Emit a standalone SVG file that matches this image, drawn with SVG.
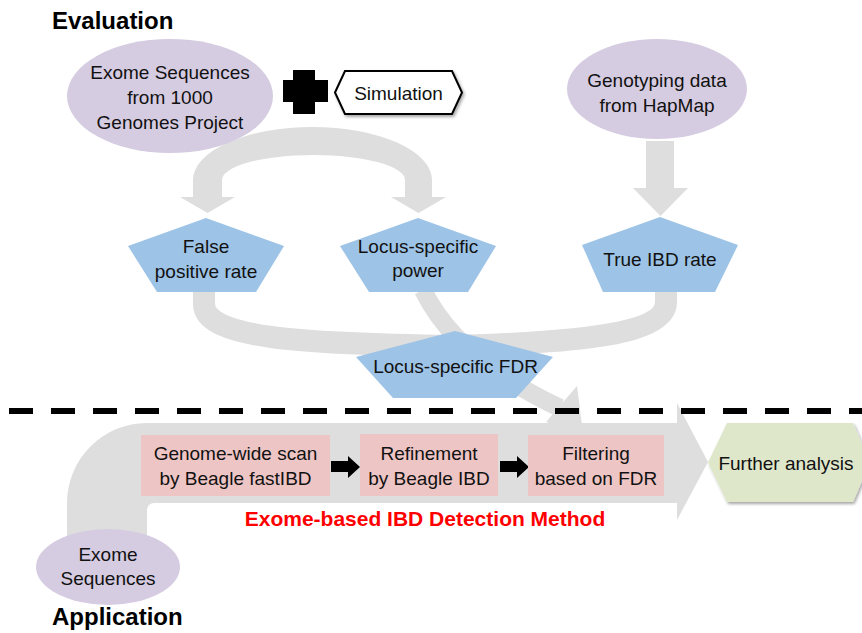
<svg xmlns="http://www.w3.org/2000/svg" width="862" height="633" viewBox="0 0 862 633">
<defs>
<style>
.t{font-family:"Liberation Sans",Arial,sans-serif;font-size:19px;fill:#111;text-anchor:middle}
.h{font-family:"Liberation Sans",Arial,sans-serif;font-size:24px;font-weight:bold;fill:#000}
.ell{fill:#d6cce2}
.pent{fill:#9dc3e6}
.box{fill:#eec5c5}
.gray{fill:#dedede}
.gs{fill:none;stroke:#dedede}
</style>
<filter id="sh" x="-10%" y="-20%" width="130%" height="160%">
<feDropShadow dx="1.5" dy="2" stdDeviation="1.5" flood-color="#000" flood-opacity="0.35"/>
</filter>
</defs>
<rect width="862" height="633" fill="#fff"/>

<g id="connectors">
  <!-- arch from exome sequences to FP and power -->
  <path class="gray" d="M193,197 L193,180 A119.5,53 0 0 1 432,180 L432,197 L405,197 L405,180 A91.5,25 0 0 0 222,180 L222,197 Z"/>
  <polygon class="gray" points="180,197 235,197 207.5,213"/>
  <polygon class="gray" points="391,197 446,197 418.5,213"/>
  <!-- HapMap to True IBD -->
  <rect class="gray" x="646" y="141" width="28" height="48"/>
  <polygon class="gray" points="633,188 688,188 660.5,216"/>
  <!-- FP and True IBD to FDR -->
  <path class="gs" stroke-width="22" d="M204,290 L204,304 C204,338 300,344 455,346"/>
  <path class="gs" stroke-width="22" d="M666,290 L666,302 C666,337 560,343 455,346"/>
  <!-- power through FDR to application -->
  <path class="gs" stroke-width="18" d="M423,290 C445,335 490,375 560,408"/>
  <polygon class="gray" points="577,386 546,422 583,433"/>
  <!-- application band arrow -->
  <path class="gray" d="M67,560 L67,503 A80,80 0 0 1 147,423 L677,423 L677,403 L708,462 L677,520 L677,503 L154,503 A7,7 0 0 0 147,510 L147,560 Z"/>
  <!-- black arrows between steps -->
  <polygon fill="#000" points="331,461 348,461 348,456 360,467 348,478 348,472 331,472"/>
  <polygon fill="#000" points="500,461 517,461 517,456 529,467 517,478 517,472 500,472"/>
</g>

<line x1="9" y1="411" x2="862" y2="411" stroke="#000" stroke-width="6" stroke-dasharray="24 18"/>

<text class="h" x="52" y="29">Evaluation</text>
<text class="h" x="52" y="625">Application</text>

<g id="exome1000">
  <ellipse class="ell" cx="170" cy="96" rx="103" ry="57"/>
  <text class="t" x="170" y="79">Exome Sequences</text>
  <text class="t" x="170" y="104">from 1000</text>
  <text class="t" x="170" y="129">Genomes Project</text>
</g>

<g id="plus">
  <path fill="#000" d="M293,70 H315 V80 H328 V102 H315 V114 H293 V102 H283 V80 H293 Z"/>
</g>

<g id="simulation">
  <polygon points="335,92.5 345,71 452,71 462,92.5 452,114 345,114" fill="#fff" stroke="#000" stroke-width="2" filter="url(#sh)"/>
  <text class="t" x="398.5" y="100">Simulation</text>
</g>

<g id="hapmap">
  <ellipse class="ell" cx="657" cy="89" rx="90" ry="50"/>
  <text class="t" x="657" y="87">Genotyping data</text>
  <text class="t" x="657" y="112">from HapMap</text>
</g>

<g id="fpr">
  <polygon class="pent" points="206,218 284,246 256,292 157,292 128,246"/>
  <text class="t" x="206" y="253">False</text>
  <text class="t" x="206" y="278">positive rate</text>
</g>

<g id="power">
  <polygon class="pent" points="418,218 496,246 468,292 369,292 340,246"/>
  <text class="t" x="418" y="253">Locus-specific</text>
  <text class="t" x="418" y="277">power</text>
</g>

<g id="trueibd">
  <polygon class="pent" points="660,217 738,245 715,292 603,292 582,245"/>
  <text class="t" x="660" y="266">True IBD rate</text>
</g>

<g id="fdr">
  <polygon class="pent" points="455,331 553,357 516,398 393,398 356,357"/>
  <text class="t" x="455.5" y="373">Locus-specific FDR</text>
</g>

<g id="scan">
  <rect class="box" x="141" y="435" width="189" height="61"/>
  <text class="t" x="235.5" y="460">Genome-wide scan</text>
  <text class="t" x="235.5" y="485">by Beagle fastIBD</text>
</g>

<g id="refine">
  <rect class="box" x="360" y="434" width="138" height="62"/>
  <text class="t" x="429" y="460">Refinement</text>
  <text class="t" x="429" y="485">by Beagle IBD</text>
</g>

<g id="filter">
  <rect class="box" x="528" y="435" width="136" height="61"/>
  <text class="t" x="596" y="460">Filtering</text>
  <text class="t" x="596" y="485">based on FDR</text>
</g>

<g id="method">
  <text x="425" y="526" font-family="Liberation Sans, Arial, sans-serif" font-size="21" font-weight="bold" fill="#ff0000" text-anchor="middle">Exome-based IBD Detection Method</text>
</g>

<g id="further">
  <polygon points="708,462.5 727,423 853,423 870,462.5 853,502 727,502" fill="#dfe7cb" filter="url(#sh)"/>
  <text class="t" x="786" y="470">Further analysis</text>
</g>

<g id="exome">
  <ellipse class="ell" cx="108" cy="567" rx="72" ry="38"/>
  <text class="t" x="108" y="561">Exome</text>
  <text class="t" x="108" y="585">Sequences</text>
</g>
</svg>
